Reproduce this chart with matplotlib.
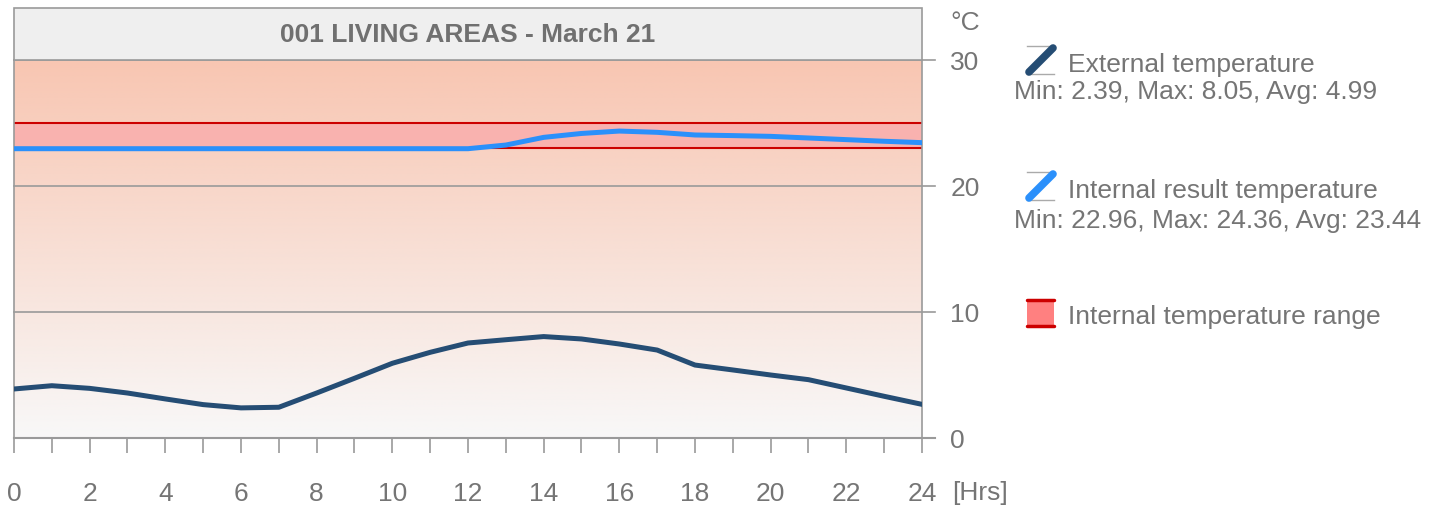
import numpy as np
import matplotlib
matplotlib.use("Agg")
import matplotlib.pyplot as plt
from matplotlib.patches import Rectangle
from matplotlib.lines import Line2D

plt.rcParams['font.family'] = ['Liberation Sans', 'DejaVu Sans']

hours = list(range(25))
external = [3.89, 4.15, 3.94, 3.57, 3.10, 2.65, 2.39, 2.44, 3.57, 4.74, 5.93, 6.80, 7.54,
            7.80, 8.05, 7.86, 7.46, 6.98, 5.79, 5.40, 5.00, 4.63, 3.97, 3.31, 2.67]
internal = [22.96] * 13 + [23.25, 23.86, 24.17, 24.36, 24.26, 24.05, 24.00, 23.94, 23.81,
                           23.68, 23.55, 23.44]
range_low, range_high = 23, 25
title = "001 LIVING AREAS - March 21"
ext_label = "External temperature"
ext_stats = "Min: 2.39, Max: 8.05, Avg: 4.99"
int_label = "Internal result temperature"
int_stats = "Min: 22.96, Max: 24.36, Avg: 23.44"
range_label = "Internal temperature range"
yticks = [0, 10, 20, 30]
xticks_major = list(range(0, 25, 2))

W, H = 1440, 506
fig = plt.figure(figsize=(W / 100, H / 100), dpi=100)

def fx(x):
    return x / W

def fy(y):
    return 1 - y / H

FS = 19
left, right, bottom, top = 14, 922, 439, 61
ax = fig.add_axes([fx(left), fy(bottom), fx(right) - fx(left), fy(top) - fy(bottom)])
ax.set_xlim(0, 24)
ax.set_ylim(0, 30)

TXT = '#757575'
GRID = '#9a9a9a'
EXT_C = '#254d74'
INT_C = '#2b90fb'
RED = '#cc0000'

# gradient background
c_bot = np.array([248, 248, 248]) / 255
c_top = np.array([248, 198, 178]) / 255
t = np.linspace(0, 1, 256)[:, None]
grad = c_bot[None, :] * (1 - t) + c_top[None, :] * t
img = np.repeat(grad[:, None, :], 2, axis=1)
ax.imshow(img, extent=[0, 24, 0, 30], origin='lower', aspect='auto', zorder=0,
          interpolation='bilinear')

# range band
ax.fill_between([0, 24], range_low, range_high, color='#f9b2af', zorder=1, lw=0)
ax.axhline(range_low, color=RED, lw=1.5, zorder=2)
ax.axhline(range_high, color=RED, lw=1.5, zorder=2)

# grid lines extending beyond right spine
for v in yticks[1:]:
    ax.plot([0, 24.35], [v, v], color=GRID, lw=1.2, clip_on=False, zorder=1.5)
ax.plot([0, 24.35], [0, 0], color=GRID, lw=1.5, clip_on=False, zorder=3)

ax.plot(hours, external, color=EXT_C, lw=3.6, zorder=4, solid_capstyle='round',
        solid_joinstyle='round')
ax.plot(hours, internal, color=INT_C, lw=3.6, zorder=4, solid_capstyle='round',
        solid_joinstyle='round')

for s in ['top', 'bottom']:
    ax.spines[s].set_visible(False)
for s in ['left', 'right']:
    ax.spines[s].set_color(GRID)
    ax.spines[s].set_linewidth(1.2)

ax.set_xticks(xticks_major)
ax.set_xticks(range(25), minor=True)
ax.tick_params(axis='x', which='both', direction='out', length=11, width=1.2,
               color=GRID, labelcolor=TXT, labelsize=FS, pad=20)
ax.tick_params(axis='y', which='both', left=False, right=False, labelleft=False,
               labelright=True, labelcolor=TXT, labelsize=FS, pad=17)
ax.set_yticks(yticks)

# title box
tb = Rectangle((fx(left), fy(top)), fx(right) - fx(left), fy(9) - fy(top),
               transform=fig.transFigure, facecolor='#efefef', edgecolor=GRID, lw=1.2)
fig.patches.append(tb)
fig.text(fx((left + right) / 2), fy(35), title, ha='center', va='center',
         fontsize=FS, fontweight='bold', color='#707070')

fig.text(fx(950), fy(23), "°C", ha='left', va='center', fontsize=FS, color=TXT)
fig.text(fx(952), fy(493), "[Hrs]", ha='left', va='center', fontsize=FS, color=TXT)

# legend
def icon_line(y0, color):
    fig.add_artist(Line2D([fx(1027), fx(1054)], [fy(y0), fy(y0)], color='#aaaaaa', lw=1,
                          transform=fig.transFigure))
    fig.add_artist(Line2D([fx(1027), fx(1054)], [fy(y0 + 28), fy(y0 + 28)], color='#aaaaaa',
                          lw=1, transform=fig.transFigure))
    fig.add_artist(Line2D([fx(1029), fx(1053)], [fy(y0 + 26), fy(y0 + 2)], color=color, lw=5.5,
                          solid_capstyle='round', transform=fig.transFigure))

icon_line(47, EXT_C)
fig.text(fx(1068), fy(65), ext_label, ha='left', va='center', fontsize=FS, color=TXT)
fig.text(fx(1014), fy(92), ext_stats, ha='left', va='center', fontsize=FS, color=TXT)

icon_line(173, INT_C)
fig.text(fx(1068), fy(191), int_label, ha='left', va='center', fontsize=FS, color=TXT)
fig.text(fx(1014), fy(221), int_stats, ha='left', va='center', fontsize=FS, color=TXT)

fig.patches.append(Rectangle((fx(1027), fy(327)), fx(1054) - fx(1027), fy(301) - fy(327),
                             transform=fig.transFigure, facecolor='#ff8080', lw=0))
for yy in (301, 327):
    fig.add_artist(Line2D([fx(1027), fx(1054)], [fy(yy), fy(yy)], color=RED, lw=2.5,
                          solid_capstyle='round', transform=fig.transFigure))
fig.text(fx(1068), fy(317), range_label, ha='left', va='center', fontsize=FS, color=TXT)

fig.savefig("out.png", dpi=100)
